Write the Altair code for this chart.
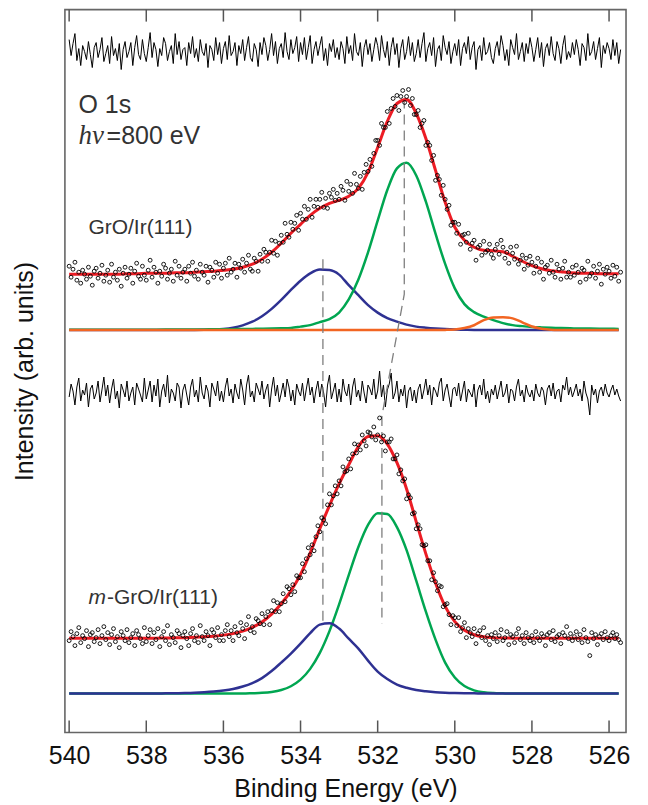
import altair as alt
import pandas as pd

# ---------------- data (arb. units, heights above each spectrum's own baseline) ----------------
CURVE_E = [540.0, 539.75, 539.5, 539.25, 539.0, 538.75, 538.5, 538.25, 538.0, 537.75,
           537.5, 537.25, 537.0, 536.75, 536.5, 536.25, 536.0, 535.75, 535.5, 535.25,
           535.0, 534.75, 534.5, 534.25, 534.0, 533.75, 533.5, 533.25, 533.0, 532.75,
           532.5, 532.25, 532.0, 531.75, 531.5, 531.25, 531.0, 530.75, 530.5, 530.25,
           530.0, 529.75, 529.5, 529.25, 529.0, 528.75, 528.5, 528.25, 528.0, 527.75,
           527.5, 527.25, 527.0, 526.75, 526.5, 526.25, 526.0, 525.75]

# GrO/Ir(111)
TOP_FIT = [56, 56, 56, 56, 56, 56, 56.5, 56.5, 57, 57, 57, 57.5, 57.5, 58, 58.5, 59, 60, 61, 63, 66,
           71, 78, 87, 97, 106, 115, 122, 127, 130, 134, 142, 158, 183, 209, 227, 231, 217, 192, 160, 128,
           103, 90, 83, 80, 79.5, 78.5, 74, 69, 64.5, 61.5, 59.5, 58.5, 57.5, 57, 57, 56.5, 56.5, 56.5]
TOP_C1 = [0, 0, 0, 0, 0, 0, 0, 0, 0, 0, 0, 0, 0, 0.1, 0.3, 0.6, 1.2, 2.5, 4.8, 8.4,
          13.9, 21.3, 30.3, 40.2, 49.5, 56.8, 60.6, 60.2, 55.6, 45, 35, 25, 17.5, 12, 8.5, 5.5, 3.5, 2.4, 1.6, 1.0,
          0.6, 0.4, 0.2, 0, 0, 0, 0, 0, 0, 0, 0, 0, 0, 0, 0, 0, 0, 0]
TOP_C2 = [0.27, 0.28, 0.3, 0.32, 0.34, 0.36, 0.39, 0.42, 0.45, 0.48, 0.52, 0.56, 0.61, 0.67, 0.73, 0.81, 0.89, 0.99, 1.1, 1.24,
          1.4, 1.6, 1.85, 2.2, 3.5, 5, 8, 11, 17.6, 30.7, 50.7, 77.9, 109.6, 140.3, 162, 167.6, 154.9, 128.6, 96.6, 66.3,
          41.8, 26, 18, 13.5, 10, 7, 5, 4, 3.2, 2.7, 2.3, 2.0, 1.8, 1.6, 1.5, 1.4, 1.3, 1.2]
TOP_C3 = [0, 0, 0, 0, 0, 0, 0, 0, 0, 0, 0, 0, 0, 0, 0, 0, 0, 0, 0, 0,
          0, 0, 0, 0, 0, 0, 0, 0, 0, 0, 0, 0, 0, 0, 0, 0, 0, 0, 0, 0.2,
          0.7, 2.1, 4.9, 10, 12.7, 13, 11.8, 7.8, 3.6, 1.4, 0.4, 0.1, 0, 0, 0, 0, 0, 0]

# m-GrO/Ir(111)
BOT_FIT = [55.5, 55.5, 55.5, 55.5, 55.5, 55.5, 55.5, 55.5, 55.5, 55.5, 55.7, 55.8, 56, 56.3, 56.8, 57.5, 58.5, 60, 62.5, 66.3,
           71.7, 79.6, 90, 102.8, 119.4, 140.7, 165.2, 188.3, 209.9, 229.1, 247.3, 257.4, 258.2, 249.9, 231.2, 204.9, 172, 139.9, 110.8, 87.3,
           72, 63.3, 58.9, 56.8, 56, 55.7, 55.5, 55.5, 55.5, 55.5, 55.5, 55.5, 55.5, 55.5, 55.5, 55.5, 55.5, 55.5]
BOT_C1 = [0, 0, 0, 0, 0, 0, 0, 0, 0, 0, 0.2, 0.3, 0.5, 0.8, 1.3, 2, 3, 4.5, 7, 10.5,
          15.5, 22.5, 31, 40, 50, 60.5, 69, 70.3, 65.1, 54.9, 45, 33, 22, 14.5, 9, 5.8, 3.5, 2.2, 1.3, 0.8,
          0.5, 0.3, 0.2, 0, 0, 0, 0, 0, 0, 0, 0, 0, 0, 0, 0, 0, 0, 0]
BOT_C2 = [0, 0, 0, 0, 0, 0, 0, 0, 0, 0, 0, 0, 0, 0, 0, 0, 0, 0, 0, 0.3,
          0.7, 1.6, 3.5, 7.3, 13.9, 24.7, 40.7, 62.5, 89.3, 118.7, 146.8, 168.9, 180.7, 179.9, 166.7, 143.6, 113, 82, 54, 31,
          16, 7.5, 3.2, 1.3, 0.5, 0.2, 0, 0, 0, 0, 0, 0, 0, 0, 0, 0, 0, 0]

# measured points: 540.00 eV downwards in 0.05 eV steps
SCAN_START = 540.0
SCAN_STEP = 0.05
TOP_DATA = [
    64, 53, 61, 68, 50, 58, 47, 60, 56, 51, 63, 54, 45, 59, 62, 52, 57, 65, 49, 55,
    60, 48, 66, 53, 58, 50, 61, 44, 57, 63, 52, 56, 62, 47, 59, 67, 54, 51, 64, 55,
    50, 60, 70, 53, 63, 58, 47, 59, 54, 66, 62, 51, 57, 61, 49, 69, 55, 64, 52, 58,
    61, 49, 64, 57, 68, 54, 60, 51, 66, 58, 55, 64, 48, 63, 60, 53, 68, 57, 66, 52,
    62, 67, 55, 72, 58, 61, 67, 53, 66, 62, 71, 58, 67, 75, 61, 59, 72, 69, 59, 76,
    69, 81, 78, 69, 78, 90, 77, 89, 75, 87, 95, 88, 107, 96, 93, 108, 101, 107, 115, 100,
    117, 111, 124, 111, 121, 131, 113, 124, 131, 123, 131, 138, 123, 132, 122, 137, 133, 141, 130, 137,
    131, 144, 140, 130, 149, 139, 146, 137, 157, 146, 142, 154, 141, 158, 166, 159, 171, 164, 177, 190,
    190, 185, 207, 203, 203, 219, 207, 222, 232, 224, 235, 220, 234, 240, 228, 234, 241, 225, 232, 216,
    216, 220, 203, 207, 210, 185, 188, 185, 170, 175, 150, 155, 151, 135, 145, 131, 121, 125, 105, 108,
    108, 97, 106, 86, 95, 96, 88, 97, 81, 87, 90, 70, 83, 85, 75, 89, 78, 80, 86, 76,
    72, 81, 86, 76, 90, 83, 72, 78, 67, 83, 77, 71, 84, 66, 70, 75, 61, 72, 65, 74,
    68, 57, 64, 72, 58, 68, 51, 63, 65, 57, 70, 58, 53, 66, 61, 51, 62, 69, 53, 58,
    53, 63, 55, 65, 58, 48, 62, 60, 51, 69, 54, 57, 64, 52, 59, 66, 46, 61, 56, 63,
    59, 52, 65, 54, 63, 49, 58]
BOT_DATA = [
    53, 62, 57, 48, 60, 66, 51, 58, 55, 63, 47, 59, 61, 52, 56, 64, 50, 58, 67, 54,
    61, 49, 59, 65, 52, 57, 46, 62, 58, 53, 64, 51, 56, 60, 48, 63, 59, 55, 50, 66,
    52, 58, 64, 50, 61, 54, 65, 47, 57, 62, 53, 68, 49, 59, 56, 51, 63, 60, 46, 58,
    62, 55, 48, 60, 65, 53, 58, 51, 68, 57, 53, 62, 58, 48, 64, 61, 56, 66, 53, 59,
    53, 63, 69, 57, 63, 53, 67, 61, 58, 71, 65, 55, 69, 77, 63, 67, 61, 75, 73, 70,
    80, 69, 77, 82, 69, 83, 93, 82, 91, 82, 90, 100, 92, 107, 105, 99, 109, 102, 118, 116,
    116, 130, 122, 135, 146, 139, 149, 143, 157, 168, 162, 176, 174, 170, 189, 200, 189, 198, 208, 200,
    213, 208, 227, 222, 223, 235, 225, 240, 250, 241, 249, 244, 259, 253, 248, 262, 261, 257, 267, 254,
    259, 276, 252, 258, 243, 252, 252, 255, 235, 235, 239, 220, 224, 213, 215, 195, 199, 196, 180, 181,
    165, 169, 165, 149, 148, 149, 133, 133, 114, 121, 112, 103, 108, 107, 87, 89, 90, 79, 69, 78,
    76, 68, 76, 62, 66, 71, 56, 65, 61, 57, 65, 50, 60, 63, 56, 66, 53, 58, 49, 59,
    55, 61, 52, 58, 64, 53, 56, 62, 49, 59, 57, 51, 60, 65, 54, 58, 50, 61, 56, 53,
    58, 51, 62, 56, 53, 60, 57, 48, 59, 61, 54, 63, 52, 57, 59, 50, 61, 58, 67, 55,
    60, 53, 57, 62, 54, 59, 51, 64, 56, 52, 38, 61, 55, 59, 49, 57, 60, 54, 62, 56,
    53, 58, 61, 55, 59, 54, 51]
TOP_RES = [
    12, -4, 8, 18, -9, 3, -14, 6, 0, -8, 10, -3, -16, 4, 9, -6, 2, 14, -10, -2,
    6, -12, 15, -4, 3, -9, 8, -18, 2, 10, -6, 0, 9, -14, 4, 16, -3, -8, 12, -2,
    -10, 4, 19, -6, 9, 2, -15, 3, -4, 14, 8, -9, 0, 6, -12, 18, -3, 10, -8, 2,
    4, -14, 9, -2, 15, -6, 3, -10, 12, 0, -4, 8, -16, 6, 2, -9, 14, -3, 9, -12,
    3, 10, -8, 16, -4, 0, 9, -14, 6, -2, 12, -9, 4, 15, -6, -10, 8, 2, -15, 9,
    -3, 14, 6, -9, 2, 18, -4, 10, -12, 3, 8, -6, 19, 0, -8, 12, -2, 4, 15, -10,
    9, -3, 14, -8, 4, 16, -12, 2, 10, -4, 6, 15, -9, 3, -14, 8, 0, 12, -6, 4,
    -8, 10, 3, -12, 15, -2, 6, -9, 18, 0, -4, 9, -15, 4, 12, -3, 8, -10, 2, 14,
    6, -9, 16, 2, -6, 10, -14, 4, 14, -3, 8, -16, 3, 12, -8, 0, 15, -4, 9, -10,
    -2, 12, -6, 8, 19, -10, 3, 9, -4, 14, -15, 2, 6, -9, 16, 4, -3, 10, -12, 0,
    8, -4, 12, -14, 3, 9, -2, 15, -8, 4, 10, -18, 2, 6, -9, 14, -3, 0, 9, -6,
    -12, 3, 10, -4, 16, 6, -9, 2, -14, 12, 4, -3, 18, -8, 0, 9, -10, 8, -2, 14,
    4, -10, 2, 14, -6, 9, -15, 3, 8, -4, 15, -2, -9, 10, 3, -12, 6, 16, -8, 0,
    -6, 9, -3, 12, 2, -14, 8, 4, -9, 18, -4, 0, 10, -8, 3, 14, -16, 6, -2, 9,
    3, -8, 12, -4, 9, -12, 2]
BOT_RES = [
    -4, 9, 2, -12, 6, 15, -8, 3, -2, 10, -14, 4, 8, -6, 0, 12, -9, 3, 16, -3,
    8, -10, 4, 14, -6, 2, -15, 9, 3, -4, 12, -8, 0, 6, -12, 10, 4, -2, -9, 15,
    -6, 3, 12, -9, 8, -3, 14, -14, 2, 9, -4, 18, -10, 4, 0, -8, 10, 6, -15, 3,
    9, -2, -12, 6, 14, -4, 3, -9, 16, 0, -6, 8, 2, -14, 10, 4, -3, 12, -8, 2,
    -9, 6, 15, -3, 4, -10, 9, 0, -6, 14, 3, -12, 8, 18, -4, 2, -9, 10, 4, -2,
    12, -6, 3, 9, -14, 4, 16, -3, 8, -9, 0, 10, -4, 14, 6, -8, 3, -12, 9, 2,
    -3, 10, -8, 4, 15, -2, 6, -10, 3, 12, -4, 9, 0, -14, 8, 18, -6, 2, 10, -9,
    4, -9, 14, 2, -3, 9, -12, 6, 15, -4, 3, -8, 12, 0, -10, 8, 4, -2, 14, -6,
    2, 22, -4, 8, -14, 3, 9, 20, -6, 0, 12, -9, 4, -3, 8, -15, 2, 6, -8, 3,
    -10, 4, 9, -6, 3, 14, -2, 8, -12, 6, 2, -4, 10, 15, -8, 3, 9, -3, -14, 4,
    6, -3, 10, -8, 2, 12, -9, 4, 0, -4, 9, -14, 3, 8, -2, 14, -6, 2, -10, 4,
    -2, 8, -6, 3, 12, -4, 0, 9, -10, 4, 2, -8, 6, 14, -3, 3, -9, 8, 0, -4,
    3, -8, 9, 0, -4, 6, 2, -12, 4, 8, -3, 10, -6, 2, 4, -9, 8, 3, 16, -2,
    6, -4, 2, 9, -3, 4, -8, 12, 0, -6, -22, 8, -2, 4, -10, 2, 6, -3, 9, 0,
    -4, 3, 8, -2, 4, -3, -8]

TICKS = [540, 538, 536, 534, 532, 530, 528, 526]

# ---------------- layout / style constants ----------------
W, H = 562, 724
X_DOMAIN = [525.56, 540.11]
TOP_BASE, BOT_BASE = 403, 39          # component baselines of the two spectra
TOP_RES_BASE, BOT_RES_BASE = 682, 340  # residual traces
DASH_A = {"E": [533.42, 533.42], "y": [474, 109]}
DASH_B = {"E": [531.31, 531.31, 531.89, 531.89], "y": [635, 439, 317, 109]}
SANS = "Liberation Sans"
SERIF = "Liberation Serif"
RED, BLUE, GREEN, ORANGE = "#EC1C24", "#2E3192", "#00A651", "#F26522"

xscale = alt.Scale(domain=X_DOMAIN, reverse=True, nice=False, zero=False)
yscale = alt.Scale(domain=[0, H], nice=False, zero=False)
xaxis = alt.Axis(values=TICKS, format="d", ticks=False, tickSize=0, domain=False, grid=False,
                 labelFontSize=25, labelColor="#111", labelPadding=11, labelFont=SANS,
                 title="Binding Energy (eV)", titleFontSize=25, titleFont=SANS,
                 titleFontWeight="normal", titleColor="#111", titlePadding=8)
yaxis = alt.Axis(labels=False, ticks=False, tickSize=0, domain=False, grid=False,
                 title="Intensity (arb. units)", titleFontSize=25, titleFont=SANS,
                 titleFontWeight="normal", titleColor="#111", titlePadding=27)
X = alt.X("E:Q", scale=xscale, axis=xaxis)
Y = alt.Y("y:Q", scale=yscale, axis=yaxis)

scan_E = [round(SCAN_START - SCAN_STEP * i, 2) for i in range(len(TOP_DATA))]


def curve(vals, base, color, width):
    df = pd.DataFrame({"E": CURVE_E, "y": [base + v for v in vals]})
    return alt.Chart(df).mark_line(color=color, strokeWidth=width, interpolate="monotone").encode(x=X, y=Y)


def points(vals, base):
    df = pd.DataFrame({"E": scan_E[:len(vals)], "y": [base + v for v in vals]})
    return alt.Chart(df).mark_point(shape="circle", filled=False, size=15, color="black",
                                    strokeWidth=0.9, opacity=1).encode(x=X, y=Y)


def residual(vals, base):
    df = pd.DataFrame({"E": scan_E[:len(vals)], "y": [base + v for v in vals]})
    return alt.Chart(df).mark_line(color="black", strokeWidth=1).encode(x=X, y=Y)


def dashed(d, name):
    df = pd.DataFrame({"E": d["E"], "y": d["y"], "k": list(range(len(d["E"]))), "s": name})
    return alt.Chart(df).mark_line(color="#7F7F7F", strokeWidth=1.3, strokeDash=[10, 6]).encode(
        x=X, y=Y, order="k:Q", detail="s:N")


def label(text, e, y, size, font=SANS, style="normal", color="#333"):
    df = pd.DataFrame({"E": [e], "y": [y], "t": [text]})
    return alt.Chart(df).mark_text(align="left", baseline="alphabetic", font=font, fontSize=size,
                                   fontStyle=style, color=color).encode(x=X, y=Y, text="t:N")


tick_df = pd.DataFrame({"E": TICKS})
ticks_bottom = alt.Chart(tick_df).mark_rule(color="#555", strokeWidth=1.5).encode(
    x=X, y=alt.value(H), y2=alt.value(H - 12))
ticks_top = alt.Chart(tick_df).mark_rule(color="#555", strokeWidth=1.5).encode(
    x=X, y=alt.value(0), y2=alt.value(12))

layers = [
    ticks_bottom, ticks_top,
    residual(TOP_RES, TOP_RES_BASE), residual(BOT_RES, BOT_RES_BASE),
    curve(TOP_C1, TOP_BASE, BLUE, 2.5), curve(TOP_C2, TOP_BASE, GREEN, 2.5), curve(TOP_C3, TOP_BASE, ORANGE, 2.5),
    curve(BOT_C2, BOT_BASE, GREEN, 2.5), curve(BOT_C1, BOT_BASE, BLUE, 2.5),
    dashed(DASH_A, "a"), dashed(DASH_B, "b"),
    curve(TOP_FIT, TOP_BASE, RED, 3), curve(BOT_FIT, BOT_BASE, RED, 3),
    points(TOP_DATA, TOP_BASE), points(BOT_DATA, BOT_BASE),
    label("O 1s", 539.76, 620, 25),
    label("h\u03bd", 539.76, 589, 27, font=SERIF, style="italic"),
    label("=800 eV", 539.03, 589, 25),
    label("GrO/Ir(111)", 539.5, 499, 21),
    label("m", 539.5, 129, 21, style="italic"),
    label("-GrO/Ir(111)", 539.02, 129, 21),
]

chart = alt.layer(*layers).properties(
    width=W, height=H, padding={"left": 5, "top": 0, "right": 10, "bottom": 0}
).configure_view(stroke="#666", strokeWidth=1.6)

chart.save("out.html", embed_options={"renderer": "svg", "actions": False})
